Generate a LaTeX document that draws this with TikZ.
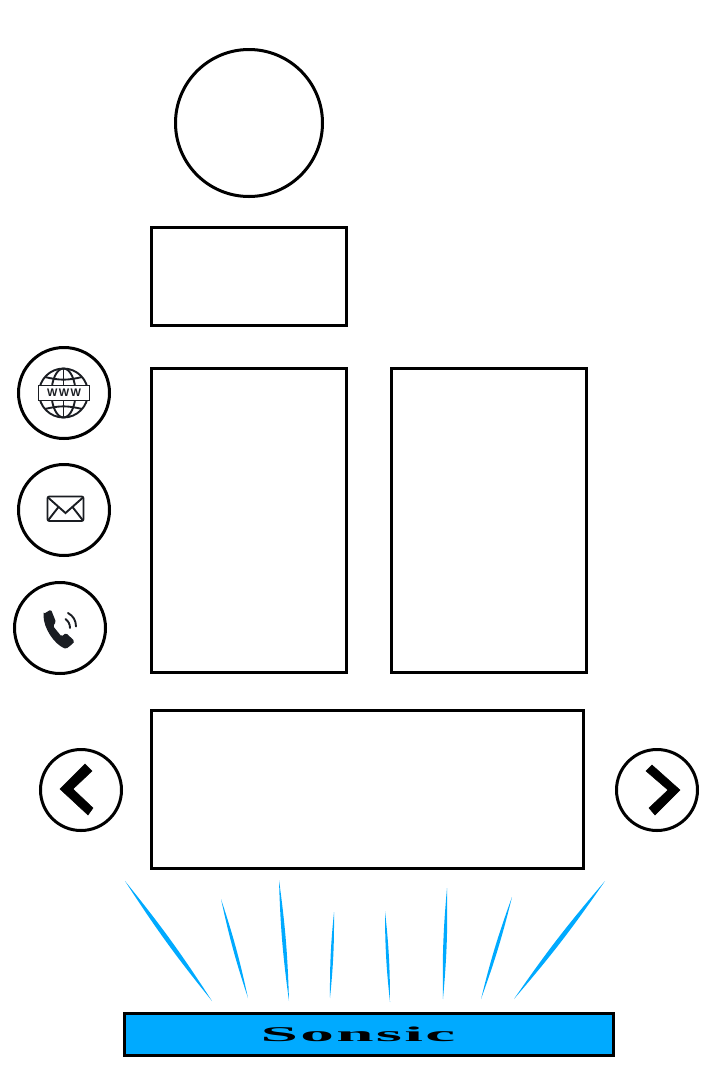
\documentclass[tikz,border=0pt]{standalone}
\usepackage{fontspec}
\newfontfamily\wordfont[FakeStretch=3.2,LetterSpace=11]{Liberation Serif Bold}
\newfontfamily\iconfont[LetterSpace=12]{Liberation Sans}
\definecolor{sonblue}{HTML}{00AAFF}
\definecolor{icondark}{HTML}{1A1D22}
\tikzset{
  panel/.style={draw,line width=3pt,inner sep=0pt},
  bigcircle/.style={draw,circle,line width=3pt,inner sep=0pt,minimum size=#1},
  iconline/.style={draw=icondark,line width=1.9pt},
  chevron/.style={fill=black,draw=black,line width=0.5pt},
  ray/.style={fill=sonblue}
}
\begin{document}
\begin{tikzpicture}[x=1pt,y=-1pt]
\useasboundingbox (0,0) rectangle (712,1080);

\node [bigcircle=147pt] (photo) at (249,123) {};
\node [panel,minimum width=195pt,minimum height=98pt] (title) at (248.5,276) {};
\node [panel,minimum width=195pt,minimum height=304pt] (leftcol) at (248.5,520) {};
\node [panel,minimum width=195pt,minimum height=304pt] (rightcol) at (488.5,520) {};
\node [panel,minimum width=432pt,minimum height=158pt] (slider) at (367,789.5) {};

\node [bigcircle=91pt] (web) at (64,393) {};
\node [bigcircle=91pt] (mail) at (64,510) {};
\node [bigcircle=91pt] (phone) at (60,628) {};
\node [bigcircle=81pt] (prev) at (81,790) {};
\node [bigcircle=81pt] (next) at (657,790) {};

% globe
\draw [iconline] (63.5,393) circle [radius=24.5];
\draw [iconline] (63.5,393) ellipse [x radius=12, y radius=24.5];
\draw [iconline] (63.5,368.5) -- (63.5,417.5);
\draw [iconline] (45,377) to[bend right=14] (82,377);
\draw [iconline] (45,409) to[bend left=14] (82,409);
\node [draw=icondark,fill=white,line width=1.9pt,inner sep=0pt,minimum width=51pt,minimum height=15pt,
  font=\iconfont\bfseries\fontsize{11}{11}\selectfont,text=icondark] (webtext) at (64,393) {WWW};

% envelope
\draw [iconline,rounded corners=2pt] (47.5,496.5) rectangle (83.5,521);
\draw [iconline] (48,497.5) -- (65.5,513) -- (83,497.5);
\draw [iconline] (48,520.5) -- (58.5,507);
\draw [iconline] (83,520.5) -- (72.5,507);

% handset
\fill [icondark,rounded corners=1.5pt] (43.5,614) -- (51,609.5) -- (56,622) -- (53,626) -- (61.5,636.5) -- (66,633) -- (74.5,641) -- (73,643.5) -- (66,649)
  .. controls (54,644) and (43.5,628) .. cycle;
\draw [iconline,line cap=round] (65.5,619) to[bend left=25] (70,628);
\draw [iconline,line cap=round] (68,613) to[bend left=30] (76,626.5);

% arrows
\draw [chevron] (60,789) -- (85,764) -- (92,771) -- (73,789) -- (93,808) -- (88,815) -- cycle;
\draw [chevron] (680,790) -- (652,765) -- (646,771) -- (668,790) -- (649,808) -- (655,815) -- cycle;

% rays
\foreach \xa/\ya/\xb/\yb in {125/881/212/1001, 221/899/248/998, 279/880/289/1001, 334/912/330/998,
  385/911/390/1002, 447/888/443/999, 512/897/481/999, 605/881/514/999}
  \fill [ray] (\xa,\ya) to[bend left=3] (\xb,\yb) to[bend left=3] (\xa,\ya);

\node [panel,fill=sonblue,minimum width=489pt,minimum height=42pt] (brand) at (369,1034) {};
\node [font=\wordfont\fontsize{21}{21}\selectfont,inner sep=0pt] (brandtext) at (358,1034) {Sonsic};
\end{tikzpicture}
\end{document}
